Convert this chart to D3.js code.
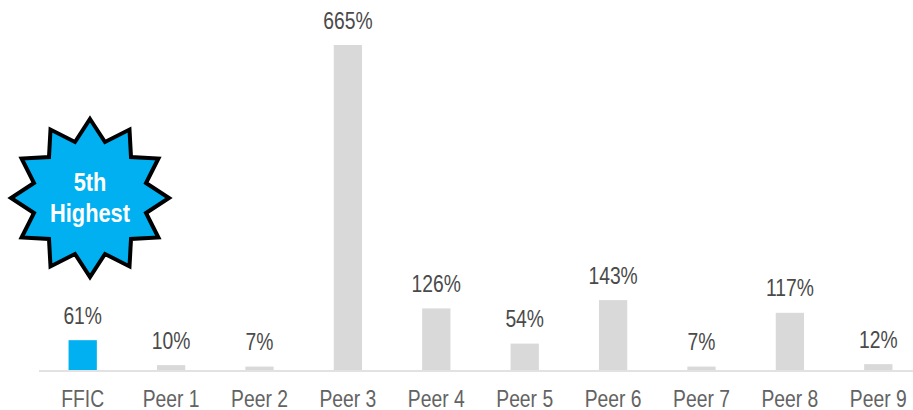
<!DOCTYPE html>
<html>
<head>
<meta charset="utf-8">
<script src="https://cdn.jsdelivr.net/npm/d3@7/dist/d3.min.js"></script>
<style>
html, body { margin: 0; padding: 0; background: #fff; }
svg { display: block; }
text { font-family: "Liberation Sans", Arial, sans-serif; }
</style>
</head>
<body>
<div id="chart"></div>
<script>
const categories = ["FFIC", "Peer 1", "Peer 2", "Peer 3", "Peer 4", "Peer 5", "Peer 6", "Peer 7", "Peer 8", "Peer 9"];
const values = [61, 10, 7, 665, 126, 54, 143, 7, 117, 12];
const highlighted = "FFIC";
const badgeLines = ["5th", "Highest"];

const width = 913, height = 410;
const narrow = 0.84; // horizontal squeeze giving the condensed lettering

const svg = d3.select("#chart").append("svg").attr("width", width).attr("height", height);

const x = d3.scaleBand().domain(categories).range([38.5, 922.5]).paddingInner(0.68).paddingOuter(0.34);
const y = d3.scaleLinear().domain([0, 665]).range([370, 45]);

// Bars
svg.selectAll("rect.bar").data(categories).join("rect")
  .attr("class", "bar")
  .attr("x", d => x(d))
  .attr("width", x.bandwidth())
  .attr("y", (d, i) => y(values[i]))
  .attr("height", (d, i) => y(0) - y(values[i]))
  .attr("fill", d => d === highlighted ? "#00b0f0" : "#d9d9d9");

// Category axis
const axis = svg.append("g").attr("transform", `translate(0,${y(0) + 0.5})`)
  .call(d3.axisBottom(x).tickSize(0));
axis.select(".domain").attr("stroke", "#d9d9d9").attr("stroke-width", 1.5);
axis.selectAll("text")
  .attr("y", 36.5).attr("dy", null)
  .attr("transform", `scale(${narrow},1)`)
  .attr("font-size", 23).attr("fill", "#636363")
  .style("font-family", '"Liberation Sans", Arial, sans-serif');

// Value labels
svg.selectAll("text.value").data(categories).join("text")
  .attr("class", "value")
  .attr("transform", (d, i) => `translate(${x(d) + x.bandwidth() / 2},${y(values[i]) - 16.5}) scale(${narrow},1)`)
  .attr("text-anchor", "middle")
  .attr("font-size", 23)
  .attr("fill", "#4a4a4a")
  .text((d, i) => values[i] + "%");

// Twelve-point star badge
const badge = svg.append("g").attr("transform", "translate(90,198)");
const star = d3.lineRadial().curve(d3.curveLinearClosed)
  .angle(d => d[0]).radius(d => d[1]);
const starPoints = d3.range(24).map(i => [i * Math.PI / 12, i % 2 ? 58 : 79]);
badge.append("path").attr("d", star(starPoints))
  .attr("fill", "#00b0f0").attr("stroke", "#000").attr("stroke-width", 4);
badge.selectAll("text").data(badgeLines).join("text")
  .attr("text-anchor", "middle")
  .attr("transform", (d, i) => `translate(0,${-7 + i * 31}) scale(${narrow},1)`)
  .attr("font-size", 26).attr("font-weight", "bold").attr("fill", "#fff")
  .text(d => d);
</script>
</body>
</html>
